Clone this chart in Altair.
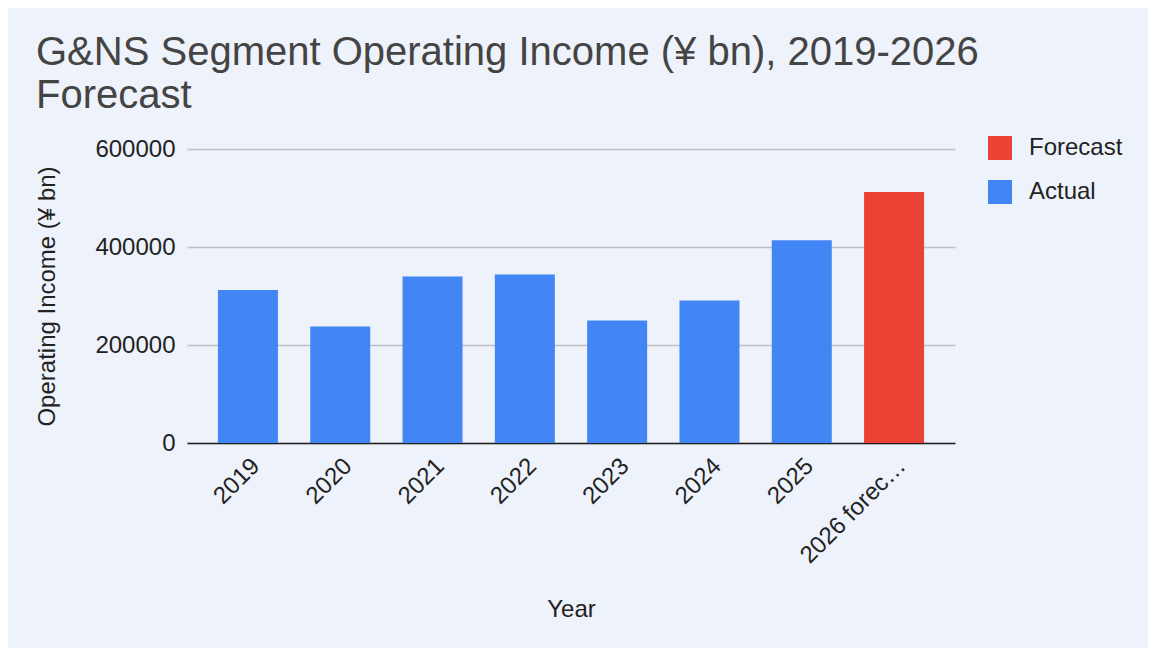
import altair as alt
import pandas as pd

years = ["2019", "2020", "2021", "2022", "2023", "2024", "2025", "2026 forecast"]
income = [312000, 238000, 340000, 344000, 250000, 291000, 414000, 512000]
kind = ["Actual", "Actual", "Actual", "Actual", "Actual", "Actual", "Actual", "Forecast"]
legend_order = ["Forecast", "Actual"]
legend_colors = ["#EA4335", "#4285F4"]
y_ticks = [0, 200000, 400000, 600000]

df = pd.DataFrame({"Year": years, "Income": income, "Type": kind})

FONT = "Liberation Sans"

chart = alt.Chart(df).mark_bar().encode(
    x=alt.X("Year:N", sort=years, title="Year",
            scale=alt.Scale(paddingInner=0.35, paddingOuter=0.335),
            axis=alt.Axis(labelAngle=-45, labelAlign="right", labelBaseline="middle",
                          labelFontSize=24, labelColor="#222", labelLimit=141,
                          labelPadding=19, labelOffset=8, ticks=False, domainColor="#222",
                          domainWidth=1.6, titleFontSize=24, titleColor="#222",
                          titleFontWeight="normal", titlePadding=30, grid=False)),
    y=alt.Y("Income:Q", title="Operating Income (¥ bn)",
            scale=alt.Scale(domain=[0, 600000]),
            axis=alt.Axis(values=y_ticks, format="d", labelFontSize=24, labelColor="#222",
                          labelPadding=12, ticks=False, domain=False,
                          gridColor="#c0c0c0", gridWidth=1.3,
                          titleFontSize=24, titleColor="#222", titleFontWeight="normal",
                          titlePadding=35)),
    color=alt.Color("Type:N", scale=alt.Scale(domain=legend_order, range=legend_colors),
                    legend=alt.Legend(title=None, orient="none", legendX=801, legendY=-13,
                                      symbolType="square", symbolSize=576,
                                      symbolStrokeWidth=0, labelFontSize=24,
                                      labelColor="#222", labelOffset=17, rowPadding=20)),
).properties(
    width=768,
    height=294,
    padding={"left": 179, "top": 141, "right": 193, "bottom": 205},
    autosize=alt.AutoSizeParams(type="none"),
    background="#eef2fa",
    title=alt.TitleParams(
        text=["G&NS Segment Operating Income (¥ bn), 2019-2026", "Forecast"],
        anchor="start", frame="group", fontSize=40, fontWeight="normal",
        color="#444444", font=FONT, dx=-151, lineHeight=43, offset=20),
).configure(
    font=FONT
).configure_view(
    stroke=None
)

chart.save("out.html", embed_options={"renderer": "svg", "actions": False})
